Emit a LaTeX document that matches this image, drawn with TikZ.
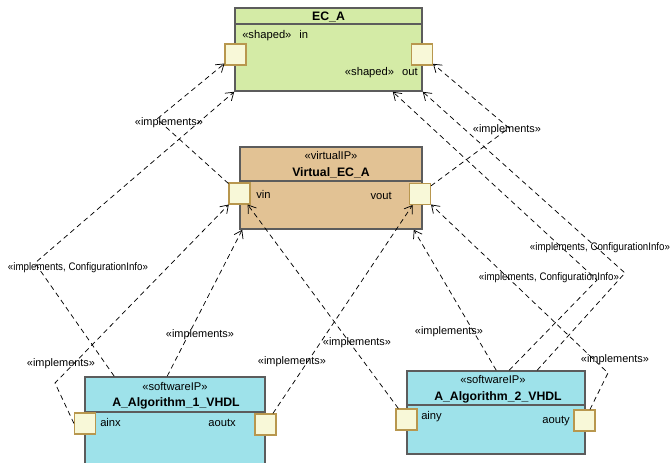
\documentclass[tikz,border=0pt]{standalone}
\usepackage{fontspec}
\setmainfont{Liberation Sans}
\usepackage{graphicx}
\usepackage{tikz}
\usetikzlibrary{arrows.meta, positioning}

\definecolor{ecgreen}{HTML}{D4EBA6}
\definecolor{virttan}{HTML}{E2C294}
\definecolor{swcyan}{HTML}{9EE2EA}
\definecolor{portfill}{HTML}{F8F8D8}
\definecolor{portline}{HTML}{B8974E}
\definecolor{boxline}{HTML}{5C5C5C}

\newcommand{\deplbl}{\fontsize{8.2}{9}\selectfont}
\newcommand{\boxtxt}{\fontsize{8.4}{10}\selectfont}
\newcommand{\boxttl}{\fontsize{9.2}{11}\selectfont\bfseries}
\newcommand{\cfglbl}{\scalebox{0.89}[1]{«implements, ConfigurationInfo»}}

\tikzset{
  box/.style={draw=boxline, line width=1.2pt, inner sep=0pt},
  port/.style={draw=portline, fill=portfill, line width=0.8pt, minimum size=15.75pt, inner sep=0pt},
  dep/.style={line width=0.55pt, dash pattern=on 3.8pt off 2.8pt, -{Straight Barb[length=5.5pt,width=7.5pt]}},
  lbl/.style={font=\deplbl, inner sep=0pt},
  txt/.style={font=\boxtxt, inner sep=0pt},
  ttl/.style={font=\boxttl, inner sep=0pt},
}

\begin{document}
\begin{tikzpicture}[x=0.75pt, y=-0.75pt]
        \clip (0,0) rectangle (671,462);

        \node (ecA)    [box, fill=ecgreen, minimum width=140.25pt, minimum height=62.25pt] at (328.5,49.5) {};
        \node (virt)   [box, fill=virttan, minimum width=136.5pt, minimum height=61.5pt] at (331,188) {};
        \node (alg1)   [box, fill=swcyan, minimum width=135pt, minimum height=66pt] at (175,421) {};
        \node (alg2)   [box, fill=swcyan, minimum width=133.5pt, minimum height=62.25pt] at (496,412.5) {};

        \draw[box] ([yshift=-12.75pt]ecA.north west) -- ([yshift=-12.75pt]ecA.north east);
        \draw[box] ([yshift=-26.25pt]virt.north west) -- ([yshift=-26.25pt]virt.north east);
        \draw[box] ([yshift=-27pt]alg1.north west) -- ([yshift=-27pt]alg1.north east);
        \draw[box] ([yshift=-26.25pt]alg2.north west) -- ([yshift=-26.25pt]alg2.north east);

        \node (ecAname)  [ttl] at (328.5,17) {EC\_A};
        \node (ecAin)    [txt, anchor=west] at (242,36) {«shaped»\hspace{6pt}in};
        \node (ecAout)   [txt, anchor=east] at (418,73) {«shaped»\hspace{6pt}out};
        \node (virtst)   [txt] at (331,155) {«virtualIP»};
        \node (virtname) [ttl] at (331,173) {Virtual\_EC\_A};
        \node (vinl)     [txt, anchor=west] at (256,194) {vin};
        \node (voutl)    [txt, anchor=east] at (392,196) {vout};
        \node (alg1st)   [txt] at (175,386) {«softwareIP»};
        \node (alg1name) [ttl] at (176,403) {A\_Algorithm\_1\_VHDL};
        \node (ainxl)    [txt, anchor=west] at (100,422) {ainx};
        \node (aoutxl)   [txt, anchor=east] at (236,423) {aoutx};
        \node (alg2st)   [txt] at (493,379) {«softwareIP»};
        \node (alg2name) [ttl] at (498,397) {A\_Algorithm\_2\_VHDL};
        \node (ainyl)    [txt, anchor=west] at (421,417) {ainy};
        \node (aoutyl)   [txt, anchor=east] at (570,421) {aouty};

        \node (pin)    [port] at (235.5,54.5) {};
        \node (pout)   [port] at (422,54.5) {};
        \node (pvin)   [port] at (239.5,193.5) {};
        \node (pvout)  [port] at (420,194) {};
        \node (painx)  [port] at (85,423.5) {};
        \node (paoutx) [port] at (265.5,424.5) {};
        \node (painy)  [port] at (406.5,419.5) {};
        \node (paouty) [port] at (584.5,420.5) {};

        \coordinate (b1)  at (55,383);
        \coordinate (b2)  at (35,263);
        \coordinate (b3)  at (157,119);
        \coordinate (b8a) at (597,280);
        \coordinate (b8b) at (625,273);
        \coordinate (b9)  at (608,373);
        \coordinate (b10) at (509,128);

        \draw[dep] (painx.west) -- (b1) -- (pvin);
        \draw[dep] ([xshift=22.5pt]alg1.north west) -- (b2) -- (ecA.south west);
        \draw[dep] (pvin) -- (b3) -- (pin);
        \draw[dep] ([xshift=62.25pt]alg1.north west) -- ([xshift=2.25pt]virt.south west);
        \draw[dep] (paoutx) -- (pvout);
        \draw[dep] (painy) -- (pvin);
        \draw[dep] ([xshift=67.5pt]alg2.north west) -- ([xshift=-6.75pt]virt.south east);
        \draw[dep] ([xshift=77.25pt]alg2.north west) -- (b8a) -- ([xshift=-22.5pt]ecA.south east);
        \draw[dep] ([xshift=98.25pt]alg2.north west) -- (b8b) -- (ecA.south east);
        \draw[dep] (paouty) -- (b9) -- (pvout);
        \draw[dep] (pvout) -- (b10) -- (pout);

        \node (l1)  [lbl] at (61,364)  {«implements»};
        \node (l2)  [lbl] at (78,268)  {\cfglbl};
        \node (l3)  [lbl] at (169,123) {«implements»};
        \node (l4)  [lbl] at (200,335) {«implements»};
        \node (l5)  [lbl] at (292,362) {«implements»};
        \node (l6)  [lbl] at (357,343) {«implements»};
        \node (l7)  [lbl] at (449,332) {«implements»};
        \node (l8a) [lbl] at (549,278) {\cfglbl};
        \node (l8b) [lbl] at (600,248) {\cfglbl};
        \node (l9)  [lbl] at (615,360) {«implements»};
        \node (l10) [lbl] at (507,130) {«implements»};
\end{tikzpicture}
\end{document}
